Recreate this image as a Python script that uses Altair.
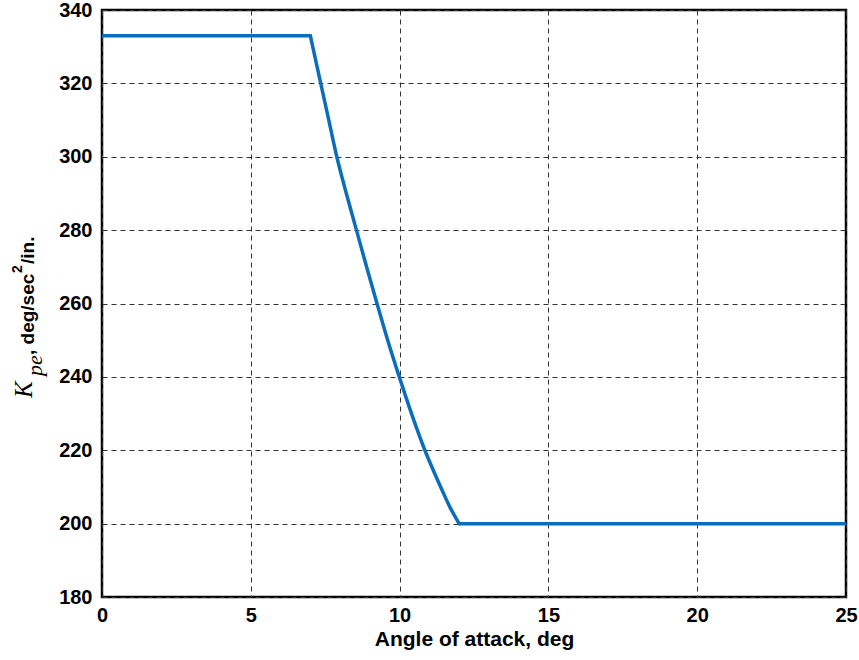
import altair as alt
import pandas as pd

# Data (three pieces: flat, falling curve, flat)
alpha_deg = [0, 7,
             7, 7.35, 7.62, 7.89, 8.21, 8.55, 8.89, 9.24, 9.60, 9.99, 10.40, 10.85, 11.38, 11.66, 12,
             12, 25]
kpe_vals = [333, 333,
            333, 320, 310, 300, 290, 280, 270, 260, 250, 240, 230, 220, 210, 205, 200,
            200, 200]
segment = ["a", "a",
           "b", "b", "b", "b", "b", "b", "b", "b", "b", "b", "b", "b", "b", "b", "b",
           "c", "c"]

x_ticks = [0, 5, 10, 15, 20, 25]
y_ticks = [180, 200, 220, 240, 260, 280, 300, 320, 340]

# y-axis title pieces
title_text = ["K", "pe", ", deg/sec", "2", "/in."]
title_font = ["Liberation Serif", "Liberation Serif", "Liberation Sans", "Liberation Sans", "Liberation Sans"]
title_style = ["italic", "italic", "normal", "normal", "normal"]
title_weight = ["normal", "normal", "bold", "bold", "bold"]
title_size = [25, 22, 19, 14, 19]
title_xoff = [-70, -60, -68, -80, -68]
title_yoff = [388, 366, 345, 263, 254]

df = pd.DataFrame({"alpha": alpha_deg, "kpe": kpe_vals, "seg": segment})

W, H = 744, 587
FONT = "Liberation Sans"

line = alt.Chart(df).mark_line(
    color="#0a6ebd", strokeWidth=3.5, clip=True, interpolate="monotone", strokeCap="round"
).encode(
    x=alt.X("alpha:Q",
            scale=alt.Scale(domain=[0, 25], nice=False, zero=False),
            axis=alt.Axis(values=x_ticks, title="Angle of attack, deg", format="d",
                          labelFlush=False, labelOverlap=False, labelPadding=8,
                          labelFontSize=20, titleFontSize=21, titlePadding=3)),
    y=alt.Y("kpe:Q",
            scale=alt.Scale(domain=[180, 340], nice=False, zero=False),
            axis=alt.Axis(values=y_ticks, title=None, format="d",
                          labelFlush=False, labelOverlap=False, labelPadding=10,
                          labelFontSize=20)),
    detail="seg:N",
    order=alt.Order("alpha:Q"),
)

layers = [line]
for i in range(len(title_text)):
    t = alt.Chart(pd.DataFrame({"t": [title_text[i]]})).mark_text(
        angle=270, align="left", baseline="alphabetic",
        font=title_font[i], fontStyle=title_style[i], fontWeight=title_weight[i],
        fontSize=title_size[i], color="black",
    ).encode(
        text="t:N",
        x=alt.value(title_xoff[i]),
        y=alt.value(title_yoff[i]),
    )
    layers.append(t)

chart = alt.layer(*layers).properties(
    width=W, height=H,
    autosize=alt.AutoSizeParams(type="none"),
    padding={"left": 102, "top": 10, "right": 13, "bottom": 63},
    background="white",
).configure_view(
    stroke="black", strokeWidth=2.5
).configure_axis(
    grid=True, gridDash=[5, 4], gridColor="#333333", gridWidth=1, gridOpacity=1,
    domain=False, ticks=False,
    labelFont=FONT, labelFontWeight="bold", labelColor="black",
    titleFont=FONT, titleFontWeight="bold", titleColor="black",
)

chart.save("out.html", embed_options={"renderer": "svg", "actions": False})
